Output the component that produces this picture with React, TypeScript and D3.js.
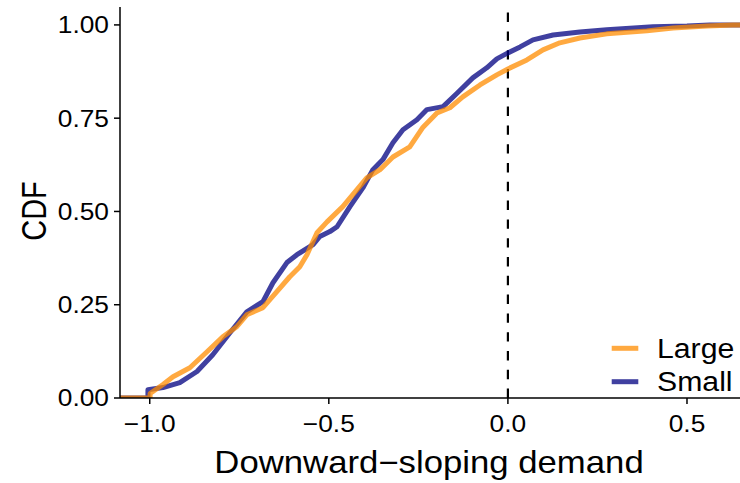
import React from "react";
import * as d3 from "d3";

const smallX = [-1.005, -1.005, -0.963, -0.916, -0.868, -0.824, -0.776, -0.729, -0.684, -0.656, -0.617, -0.589, -0.544, -0.525, -0.497, -0.477, -0.441, -0.405, -0.377, -0.349, -0.321, -0.293, -0.254, -0.226, -0.181, -0.142, -0.098, -0.059, -0.031, 0.0, 0.034, 0.07, 0.126, 0.201, 0.276, 0.405, 0.5, 0.564];
const smallCdf = [0, 0.022, 0.028, 0.041, 0.071, 0.116, 0.175, 0.231, 0.258, 0.309, 0.363, 0.384, 0.411, 0.433, 0.446, 0.459, 0.513, 0.563, 0.612, 0.639, 0.684, 0.719, 0.746, 0.773, 0.781, 0.817, 0.858, 0.885, 0.909, 0.925, 0.941, 0.96, 0.973, 0.981, 0.987, 0.995, 0.997, 1.0];

const largeX = [-0.999, -0.999, -0.963, -0.935, -0.888, -0.84, -0.796, -0.757, -0.729, -0.684, -0.645, -0.609, -0.581, -0.561, -0.533, -0.505, -0.461, -0.422, -0.394, -0.357, -0.321, -0.274, -0.237, -0.198, -0.162, -0.126, -0.078, -0.031, 0.0, 0.053, 0.098, 0.145, 0.201, 0.276, 0.388, 0.461, 0.556, 0.628];
const largeCdf = [0, 0.012, 0.036, 0.057, 0.081, 0.124, 0.164, 0.191, 0.223, 0.242, 0.285, 0.325, 0.352, 0.384, 0.443, 0.472, 0.513, 0.558, 0.59, 0.612, 0.646, 0.673, 0.726, 0.764, 0.778, 0.807, 0.839, 0.866, 0.882, 0.906, 0.933, 0.952, 0.965, 0.976, 0.984, 0.992, 0.997, 1.0];

const xTicks = [-1.0, -0.5, 0.0, 0.5];
const xTickLabels = ["\u22121.0", "\u22120.5", "0.0", "0.5"];
const yTicks = [0, 0.25, 0.5, 0.75, 1.0];
const yTickLabels = ["0.00", "0.25", "0.50", "0.75", "1.00"];
const seriesNames = ["Large", "Small"];
const seriesColors = ["#FF8C00", "#000080"];
const refLine = 0;
const xTitle = "Downward\u2212sloping demand";
const yTitle = "CDF";

const W = 740;
const H = 483;
const LEFT = 120;
const RIGHT = 740;
const TOP = 7;
const BOTTOM = 398;
const FONT = "'Liberation Sans', Arial, Helvetica, sans-serif";
const SX = 1.12;

export default function App() {
  const x = d3.scaleLinear().domain([-1.083, 0.648]).range([LEFT, RIGHT]);
  const y = d3.scaleLinear().domain([0, 1.048]).range([BOTTOM, TOP]);
  const [xMin, xMax] = x.domain();

  const line = d3
    .line<[number, number]>()
    .x((d) => x(d[0]))
    .y((d) => y(d[1]));

  const build = (xs: number[], cs: number[]): [number, number][] => {
    const pts: [number, number][] = [[xMin, 0]];
    xs.forEach((v, i) => pts.push([v, cs[i]]));
    pts.push([xMax, 1]);
    return pts;
  };

  const small = build(smallX, smallCdf);
  const large = build(largeX, largeCdf);

  const legendY = [348.3, 381.7];

  return (
    <svg
      width={W}
      height={H}
      style={{ position: "absolute", left: 0, top: 0, background: "#fff" }}
      fontFamily={FONT}
    >
      <defs>
        <clipPath id="panel">
          <rect x={LEFT} y={0} width={RIGHT - LEFT} height={BOTTOM} />
        </clipPath>
      </defs>
      <rect x={0} y={0} width={W} height={H} fill="#fff" />

      <g clipPath="url(#panel)">
        <line
          x1={x(refLine)}
          x2={x(refLine)}
          y1={BOTTOM}
          y2={TOP}
          stroke="#000"
          strokeWidth={2.2}
          strokeDasharray="9.4,9.4"
        />
        <path
          d={line(small) || ""}
          fill="none"
          stroke={seriesColors[1]}
          strokeOpacity={0.75}
          strokeWidth={5}
          strokeLinejoin="round"
        />
        <path
          d={line(large) || ""}
          fill="none"
          stroke={seriesColors[0]}
          strokeOpacity={0.75}
          strokeWidth={5}
          strokeLinejoin="round"
        />
      </g>

      {/* axes */}
      <line x1={LEFT} x2={RIGHT} y1={BOTTOM} y2={BOTTOM} stroke="#000" strokeWidth={1.5} />
      <line x1={LEFT} x2={LEFT} y1={TOP} y2={BOTTOM} stroke="#000" strokeWidth={1.5} />

      {xTicks.map((t, i) => (
        <g key={"xt" + i}>
          <line x1={x(t)} x2={x(t)} y1={BOTTOM} y2={BOTTOM + 6} stroke="#000" strokeWidth={1.5} />
          <text
            transform={`translate(${x(t)},432) scale(${SX},1)`}
            textAnchor="middle"
            fontSize={23.5}
            fill="#000"
          >
            {xTickLabels[i]}
          </text>
        </g>
      ))}

      {yTicks.map((t, i) => (
        <g key={"yt" + i}>
          <line x1={LEFT - 6} x2={LEFT} y1={y(t)} y2={y(t)} stroke="#000" strokeWidth={1.5} />
          <text
            transform={`translate(109,${y(t) + 8.4}) scale(${SX},1)`}
            textAnchor="end"
            fontSize={23.5}
            fill="#000"
          >
            {yTickLabels[i]}
          </text>
        </g>
      ))}

      <text
        transform={`translate(429,472.5) scale(${SX},1)`}
        textAnchor="middle"
        fontSize={31}
        fill="#000"
      >
        {xTitle}
      </text>
      <text
        transform={`translate(46,211) scale(1.2,1) rotate(-90)`}
        textAnchor="middle"
        fontSize={29}
        fill="#000"
      >
        {yTitle}
      </text>

      {/* legend */}
      {seriesNames.map((name, i) => (
        <g key={"lg" + i}>
          <line
            x1={611.7}
            x2={638.3}
            y1={legendY[i]}
            y2={legendY[i]}
            stroke={seriesColors[i]}
            strokeOpacity={0.75}
            strokeWidth={5}
          />
          <text
            transform={`translate(657,${legendY[i] + 9.7}) scale(${SX},1)`}
            fontSize={27}
            fill="#000"
          >
            {name}
          </text>
        </g>
      ))}
    </svg>
  );
}
